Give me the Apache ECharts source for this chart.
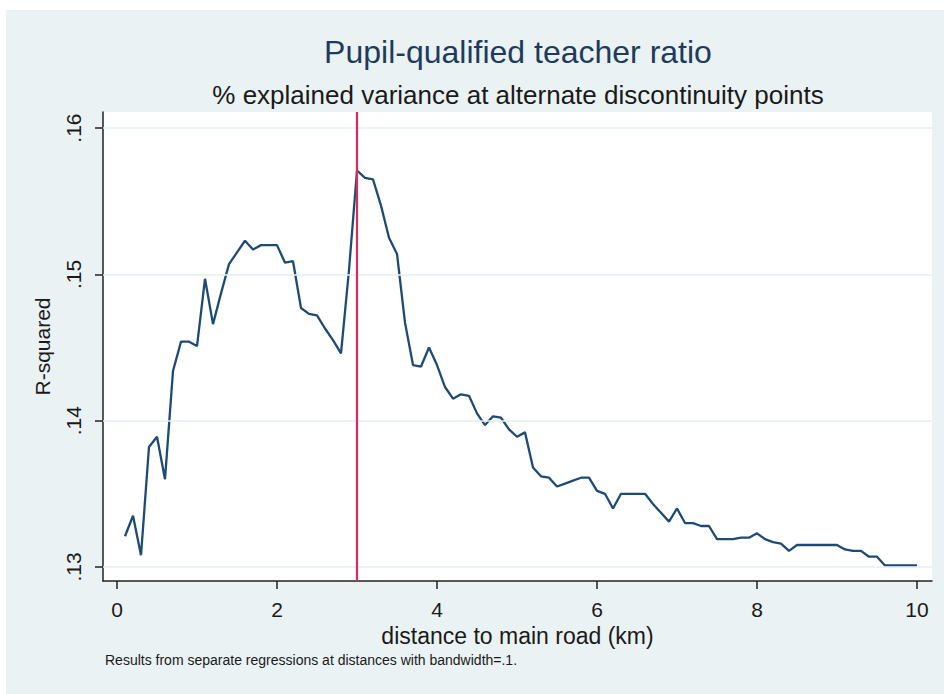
<!DOCTYPE html>
<html>
<head>
<meta charset="utf-8">
<script src="https://cdn.jsdelivr.net/npm/echarts@6/dist/echarts.min.js"></script>
<style>
  html, body { margin: 0; padding: 0; background: #ffffff; }
  #wrap { position: relative; width: 944px; height: 694px; overflow: hidden; }
  #bg { position: absolute; left: 6px; top: 10px; right: 0; bottom: 0; background: #EAF2F3; }
  #chart { position: absolute; left: 0; top: 0; width: 944px; height: 694px; }
</style>
</head>
<body>
<div id="wrap"><div id="bg"></div><div id="chart"></div></div>
<script>
// distance to main road (km)
const distances = [
  0.1, 0.2, 0.3, 0.4, 0.5, 0.6, 0.7, 0.8, 0.9, 1.0,
  1.1, 1.2, 1.3, 1.4, 1.5, 1.6, 1.7, 1.8, 1.9, 2.0,
  2.1, 2.2, 2.3, 2.4, 2.5, 2.6, 2.7, 2.8, 2.9, 3.0,
  3.1, 3.2, 3.3, 3.4, 3.5, 3.6, 3.7, 3.8, 3.9, 4.0,
  4.1, 4.2, 4.3, 4.4, 4.5, 4.6, 4.7, 4.8, 4.9, 5.0,
  5.1, 5.2, 5.3, 5.4, 5.5, 5.6, 5.7, 5.8, 5.9, 6.0,
  6.1, 6.2, 6.3, 6.4, 6.5, 6.6, 6.7, 6.8, 6.9, 7.0,
  7.1, 7.2, 7.3, 7.4, 7.5, 7.6, 7.7, 7.8, 7.9, 8.0,
  8.1, 8.2, 8.3, 8.4, 8.5, 8.6, 8.7, 8.8, 8.9, 9.0,
  9.1, 9.2, 9.3, 9.4, 9.5, 9.6, 9.7, 9.8, 9.9, 10.0
];
// R-squared
const rSquared = [
  0.1321, 0.1335, 0.1308, 0.1382, 0.1389, 0.1360, 0.1434, 0.1454, 0.1454, 0.1451,
  0.1497, 0.1466, 0.1487, 0.1507, 0.1515, 0.1523, 0.1517, 0.1520, 0.1520, 0.1520,
  0.1508, 0.1509, 0.1477, 0.1473, 0.1472, 0.1463, 0.1455, 0.1446, 0.1503, 0.1571,
  0.1566, 0.1565, 0.1547, 0.1525, 0.1514, 0.1467, 0.1438, 0.1437, 0.1450, 0.1438,
  0.1423, 0.1415, 0.1418, 0.1417, 0.1405, 0.1397, 0.1403, 0.1402, 0.1394, 0.1389,
  0.1392, 0.1368, 0.1362, 0.1361, 0.1355, 0.1357, 0.1359, 0.1361, 0.1361, 0.1352,
  0.1350, 0.1340, 0.1350, 0.1350, 0.1350, 0.1350, 0.1343, 0.1337, 0.1331, 0.1340,
  0.1330, 0.1330, 0.1328, 0.1328, 0.1319, 0.1319, 0.1319, 0.1320, 0.1320, 0.1323,
  0.1319, 0.1317, 0.1316, 0.1311, 0.1315, 0.1315, 0.1315, 0.1315, 0.1315, 0.1315,
  0.1312, 0.1311, 0.1311, 0.1307, 0.1307, 0.1301, 0.1301, 0.1301, 0.1301, 0.1301
];
const xTicks = [0, 2, 4, 6, 8, 10];
const yTicks = [0.13, 0.14, 0.15, 0.16];
const discontinuity = [3];

const titleText = 'Pupil-qualified teacher ratio';
const subtitleText = '% explained variance at alternate discontinuity points';
const xName = 'distance to main road (km)';
const yName = 'R-squared';
const noteText = 'Results from separate regressions at distances with bandwidth=.1.';

const FONT = '"Liberation Sans", Arial, sans-serif';

const chart = echarts.init(document.getElementById('chart'), null, { renderer: 'svg' });

const lineData = distances.map((d, i) => [d, rSquared[i]]);

chart.setOption({
  backgroundColor: 'transparent',
  animation: false,
  textStyle: { fontFamily: FONT },
  grid: {
    left: 103, right: 12, top: 112, bottom: 113,
    show: true, backgroundColor: '#ffffff', borderWidth: 0
  },
  graphic: [
    { type: 'text', x: 518, y: 52, style: { text: titleText, textAlign: 'center', textVerticalAlign: 'middle', font: '32px ' + FONT, fill: '#1E3A5C' } },
    { type: 'text', x: 518, y: 95, style: { text: subtitleText, textAlign: 'center', textVerticalAlign: 'middle', font: '26px ' + FONT, fill: '#1a1a1a' } },
    { type: 'text', x: 105, y: 660, style: { text: noteText, textAlign: 'left', textVerticalAlign: 'middle', font: '14px ' + FONT, fill: '#1a1a1a' } }
  ],
  xAxis: {
    type: 'value',
    min: -0.175, max: 10.1875,
    name: xName, nameLocation: 'middle', nameGap: 38,
    nameTextStyle: { fontSize: 23, color: '#1a1a1a', fontFamily: FONT },
    axisLine: { show: true, onZero: false, lineStyle: { color: '#222', width: 1.5 } },
    axisTick: { show: true, inside: false, length: 8, customValues: xTicks, lineStyle: { color: '#222', width: 1.5 } },
    axisLabel: { show: true, margin: 18, fontSize: 21, color: '#1a1a1a', fontFamily: FONT, customValues: xTicks, formatter: v => String(v) },
    splitLine: { show: false }
  },
  yAxis: {
    type: 'value',
    min: 0.12904, max: 0.1611,
    name: yName, nameLocation: 'middle', nameGap: 50,
    nameTextStyle: { fontSize: 21, color: '#1a1a1a', fontFamily: FONT },
    axisLine: { show: true, onZero: false, lineStyle: { color: '#222', width: 1.5 } },
    axisTick: { show: true, inside: false, length: 8, customValues: yTicks, lineStyle: { color: '#222', width: 1.5 } },
    axisLabel: { show: true, margin: 19, rotate: 90, fontSize: 21, color: '#1a1a1a', fontFamily: FONT, customValues: yTicks,
      formatter: v => v.toFixed(2).replace(/^0/, '') },
    splitLine: { show: false }
  },
  series: [
    {
      type: 'line',
      data: lineData,
      showSymbol: false,
      symbol: 'none',
      lineStyle: { color: '#1E4B75', width: 2.3 },
      z: 3,
      markLine: {
        silent: true,
        symbol: 'none',
        label: { show: false },
        animation: false,
        data: yTicks.map(v => ({ yAxis: v, lineStyle: { color: '#E4EEF1', width: 1.5, type: 'solid' } }))
      }
    },
    {
      type: 'line',
      data: [],
      z: 4,
      markLine: {
        silent: true,
        symbol: 'none',
        label: { show: false },
        animation: false,
        data: discontinuity.map(v => ({ xAxis: v, lineStyle: { color: '#DA2C58', width: 2.2, type: 'solid' } }))
      }
    }
  ]
});
</script>
</body>
</html>
